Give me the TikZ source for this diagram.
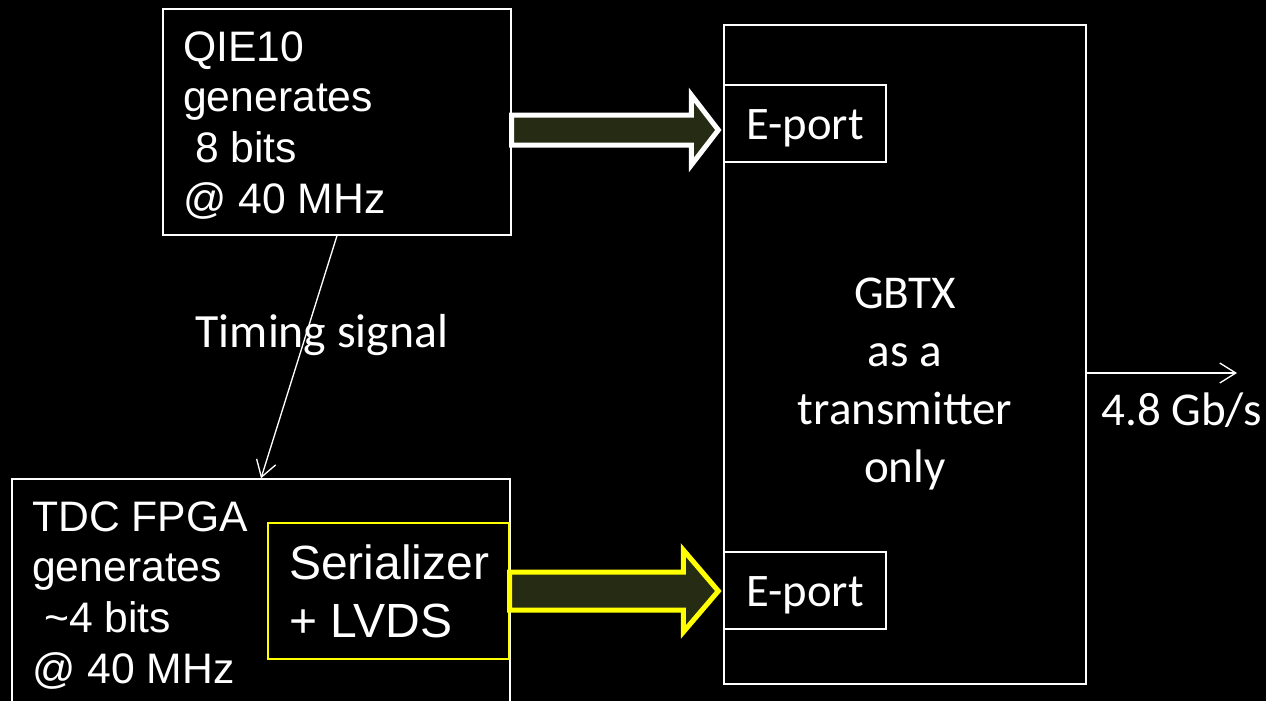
\documentclass[tikz,border=0pt]{standalone}
\usepackage{fontspec}
\setmainfont{Liberation Sans}
\newfontfamily\carlito{Carlito}
\usetikzlibrary{fit,arrows.meta,calc}
\definecolor{arrowfill}{RGB}{38,44,20}
\definecolor{seryellow}{RGB}{255,255,0}
\begin{document}
\begin{tikzpicture}[x=0.75pt,y=-0.75pt,
  box/.style={draw=white, line width=1pt, inner sep=0pt},
  ybox/.style={draw=seryellow, line width=1pt, inner sep=0pt},
  arialtxt/.style={text=white, align=left, inner sep=0pt, font=\fontsize{32pt}{38pt}\selectfont},
  sertxt/.style={text=white, align=left, inner sep=0pt, font=\fontsize{36pt}{42.8pt}\selectfont},
  caltxt/.style={text=white, inner sep=0pt, font=\carlito\fontsize{35pt}{42pt}\selectfont},
  gbtxtxt/.style={text=white, align=center, inner sep=0pt, font=\carlito\fontsize{35.3pt}{43.3pt}\selectfont},
  bigarrow/.style={fill=arrowfill, line width=3.75pt, line join=miter},
  thinarrow/.style={draw=white, line width=1pt, -{Straight Barb[length=12pt,width=15pt,line width=1pt]}}
]
\fill[black] (0,0) rectangle (1266,701);
\useasboundingbox (0,0) rectangle (1266,701);

% boxes
\node[box, fit={(163,9) (511,235)}] (qie) {};
\node[box, fit={(12,479) (510,740)}] (tdc) {};
\node[ybox, fit={(268,523) (509,659)}] (ser) {};
\node[box, fit={(724,25) (1086,684)}] (gbtx) {};
\node[box, fit={(724,85) (886,162)}] (ep1) {};
\node[box, fit={(724,552) (886,629)}] (ep2) {};

% texts (base anchor = baseline of last line)
\node[arialtxt, anchor=base west] (qietext) at (183,213) {QIE10\\generates\\\hspace*{0.278em}8 bits\\@ 40 MHz};
\node[arialtxt, anchor=base west] (tdctext) at (32,683) {TDC FPGA\\generates\\\hspace*{0.278em}\textasciitilde4 bits\\@ 40 MHz};
\node[sertxt, anchor=base west] (sertext) at (289,637) {Serializer\\+ LVDS};
\node[caltxt, anchor=base] (ep1text) at (805,139) {E-port};
\node[caltxt, anchor=base] (ep2text) at (805,606) {E-port};
\node[gbtxtxt, anchor=base] (gbtxtext) at (905,482) {GBTX\\as a\\transmitter\\only};
\node[text=white, inner sep=0pt, font=\carlito\fontsize{35.8pt}{42pt}\selectfont, anchor=base] (timing) at (322,347) {Timing signal};
\node[text=white, inner sep=0pt, font=\carlito\fontsize{35.3pt}{42pt}\selectfont, anchor=base west] (rate) at (1101,425) {4.8 Gb/s};

% big arrows
\coordinate (a1s) at (qie.east |- 0,130);
\coordinate (a1e) at (ep1.west |- 0,130);
\draw[bigarrow, draw=white]
  ($(a1s)+(0,-15)$) -- ($(a1e)+(-32,-15)$) -- ($(a1e)+(-32,-35)$) -- ($(a1e)+(-5,0)$)
  -- ($(a1e)+(-32,35)$) -- ($(a1e)+(-32,15)$) -- ($(a1s)+(0,15)$) -- cycle;

\coordinate (a2s) at (ser.east |- 0,591);
\coordinate (a2e) at (ep2.west |- 0,591);
\draw[bigarrow, draw=seryellow]
  ($(a2s)+(0,-19)$) -- ($(a2e)+(-40,-19)$) -- ($(a2e)+(-40,-41)$) -- ($(a2e)+(-5,0)$)
  -- ($(a2e)+(-40,41)$) -- ($(a2e)+(-40,19)$) -- ($(a2s)+(0,19)$) -- cycle;

% thin arrows
\draw[thinarrow] (qie.south) -- (tdc.north);
\coordinate (outend) at (1237,373);
\draw[thinarrow] (gbtx.east |- outend) -- (outend);
\end{tikzpicture}
\end{document}
